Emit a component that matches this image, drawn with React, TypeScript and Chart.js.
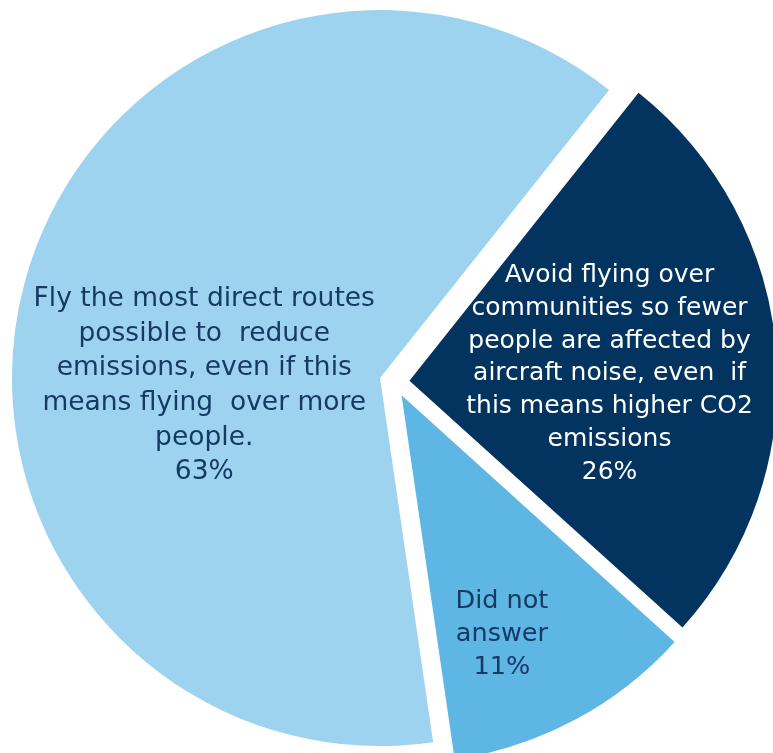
import React, { useEffect, useRef } from 'react';
import { Chart, registerables, ArcElement } from 'chart.js';

Chart.register(...registerables);

// ---------- data ----------
const categories = [
  'Avoid flying over communities so fewer people are affected by aircraft noise, even if this means higher CO2 emissions',
  'Did not answer',
  'Fly the most direct routes possible to reduce emissions, even if this means flying over more people.',
];
const categoryLines = [
  ['Avoid flying over', 'communities so fewer', 'people are affected by', 'aircraft noise, even  if', 'this means higher CO2', 'emissions'],
  ['Did not', 'answer'],
  ['Fly the most direct routes', 'possible to  reduce', 'emissions, even if this', 'means flying  over more', 'people.'],
];
const values = [26, 11, 63];

// ---------- style ----------
const sliceColors = ['#02345F', '#5DB6E3', '#9DD3EE'];
const textColors = ['#FFFFFF', '#163A63', '#163A63'];
const fontSizes = [25, 25.5, 26.5];
const lineHeights = [32.7, 33, 34.7];
const labelRadiusFrac = [0.585, 0.738, 0.517];
const labelAngleShiftDeg = [1.9, 4.8, -15.5];
const textNudgeY = 2.5;
const FONT = '"DejaVu Sans", sans-serif';

class ExplodedArc extends ArcElement {
  static id = 'explodedArc';
  static defaults = { ...ArcElement.defaults, explode: 0 };
  draw(ctx: CanvasRenderingContext2D) {
    const d = (this as any).options.explode || 0;
    const mid = ((this as any).startAngle + (this as any).endAngle) / 2;
    ctx.save();
    ctx.translate(Math.cos(mid) * d, Math.sin(mid) * d);
    super.draw(ctx);
    ctx.restore();
  }
}
Chart.register(ExplodedArc);
(Chart.defaults as any).datasets.pie.dataElementType = 'explodedArc';

const sliceLabels = {
  id: 'sliceLabels',
  afterDatasetsDraw(chart: any) {
    const ctx = chart.ctx as CanvasRenderingContext2D;
    const meta = chart.getDatasetMeta(0);
    meta.data.forEach((arc: any, i: number) => {
      const { x, y, startAngle, endAngle, outerRadius } = arc.getProps(
        ['x', 'y', 'startAngle', 'endAngle', 'outerRadius'],
        true
      );
      const ang = (startAngle + endAngle) / 2 + (labelAngleShiftDeg[i] * Math.PI) / 180;
      const r = labelRadiusFrac[i] * outerRadius;
      const cx = x + Math.cos(ang) * r;
      const cy = y + Math.sin(ang) * r + textNudgeY;
      const lines = [...categoryLines[i], `${values[i]}%`];
      const lh = lineHeights[i];
      ctx.save();
      ctx.font = `${fontSizes[i]}px ${FONT}`;
      ctx.fillStyle = textColors[i];
      ctx.textAlign = 'center';
      ctx.textBaseline = 'middle';
      const top = cy - ((lines.length - 1) * lh) / 2;
      lines.forEach((ln, k) => ctx.fillText(ln, cx, top + k * lh));
      ctx.restore();
    });
  },
};

export default function App() {
  const ref = useRef<HTMLCanvasElement | null>(null);
  useEffect(() => {
    if (!ref.current) return;
    const chart = new Chart(ref.current, {
      type: 'pie',
      data: {
        labels: categories,
        datasets: [
          {
            data: values,
            backgroundColor: sliceColors,
            borderWidth: 0,
            explode: 15,
          } as any,
        ],
      },
      options: {
        animation: false,
        responsive: false,
        rotation: 38.5,
        radius: 368,
        layout: { padding: { left: 16, right: 0, top: 11, bottom: 0 } },
        plugins: {
          legend: { display: false },
          tooltip: { enabled: false },
        },
        events: [],
      } as any,
      plugins: [sliceLabels],
    });
    return () => chart.destroy();
  }, []);
  return (
    <div style={{ width: 773, height: 753, overflow: 'hidden', background: '#fff' }}>
      <style>{`html,body{margin:0;padding:0;overflow:hidden;background:#fff}`}</style>
      <canvas ref={ref} width={773} height={753} style={{ display: 'block' }} />
    </div>
  );
}
